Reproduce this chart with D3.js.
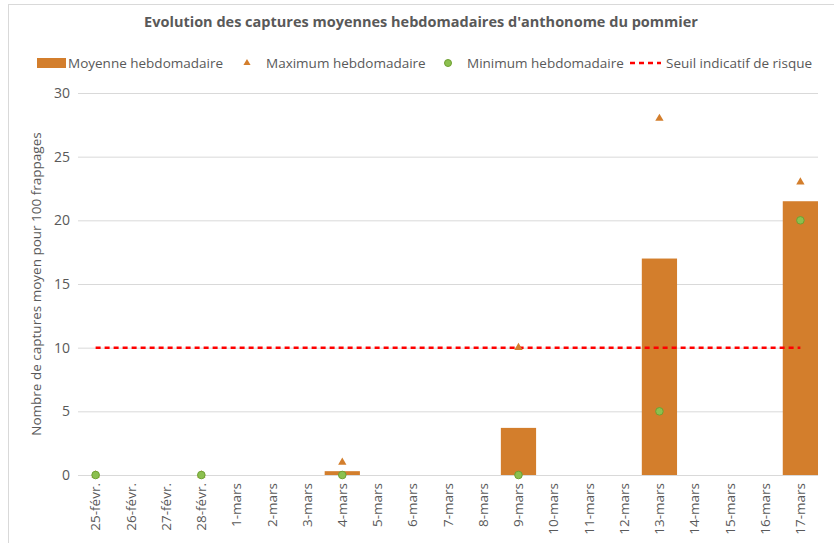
<!DOCTYPE html>
<html><head><meta charset="utf-8">
<script src="https://cdn.jsdelivr.net/npm/d3@7"></script>
<style>body{margin:0;background:#fff}svg{display:block}text{font-family:"Open Sans","Noto Sans",sans-serif}</style>
</head><body><svg id="c" width="834" height="543"></svg>
<script>
const categories = ["25-févr.","26-févr.","27-févr.","28-févr.","1-mars","2-mars","3-mars","4-mars","5-mars","6-mars","7-mars","8-mars","9-mars","10-mars","11-mars","12-mars","13-mars","14-mars","15-mars","16-mars","17-mars"];
const moyenne = [0,null,null,0,null,null,null,0.3,null,null,null,null,3.7,null,null,null,17,null,null,null,21.5];
const maximum = [0,null,null,0,null,null,null,1,null,null,null,null,10,null,null,null,28,null,null,null,23];
const minimum = [0,null,null,0,null,null,null,0,null,null,null,null,0,null,null,null,5,null,null,null,20];
const seuil = categories.map(() => 10);
const yTicks = [0,5,10,15,20,25,30];

const svg = d3.select("#c");
const M = {l:78, r:818, t:93, b:475};
const orange = "#D37E2C", green = "#8CC04F", greenS = "#6FA032", red = "#FF0000", grid = "#D9D9D9", txt = "#595959";

svg.append("rect").attr("x",8.5).attr("y",4.5).attr("width",840).attr("height",560).attr("fill","none").attr("stroke","#D9D9D9");

const x = d3.scaleBand().domain(categories).range([M.l, M.r]).padding(0);
const y = d3.scaleLinear().domain([0,30]).range([M.b, M.t]);

// gridlines
svg.append("g").selectAll("line").data(yTicks).join("line")
  .attr("x1",M.l).attr("x2",M.r).attr("y1",d=>y(d)+0.5).attr("y2",d=>y(d)+0.5)
  .attr("stroke",grid).attr("stroke-width",1);

// y axis labels
const ya = svg.append("g").attr("transform",`translate(${M.l-8},0)`)
  .call(d3.axisLeft(y).tickValues(yTicks).tickSize(0).tickPadding(0));
ya.select(".domain").remove();
ya.selectAll("text").attr("fill",txt).style("font-size","14px").style("font-family","'Open Sans',sans-serif");

// x axis labels
const xa = svg.append("g").attr("transform",`translate(0,${M.b})`)
  .call(d3.axisBottom(x).tickSize(0).tickPadding(0));
xa.select(".domain").remove();
xa.selectAll("text").attr("fill",txt).style("font-size","13.5px")
  .attr("transform","rotate(-90)").attr("text-anchor","end").attr("dx","-8").attr("dy","0.35em").attr("y",0);

// bars
const idx = d3.range(categories.length);
svg.append("g").selectAll("rect").data(idx.filter(i=>moyenne[i]!==null && moyenne[i]>0)).join("rect")
  .attr("x",i=>x(categories[i])).attr("width",x.bandwidth())
  .attr("y",i=>y(moyenne[i])).attr("height",i=>y(0)-y(moyenne[i]))
  .attr("fill",orange);

// threshold line
svg.append("path").datum(idx)
  .attr("d",d3.line().x(i=>x(categories[i])+x.bandwidth()/2).y(i=>y(seuil[i])))
  .attr("fill","none").attr("stroke",red).attr("stroke-width",2.5).attr("stroke-dasharray","5,4");

// max triangles
const tri = d3.symbol().type(d3.symbolTriangle).size(30);
svg.append("g").selectAll("path").data(idx.filter(i=>maximum[i]!==null)).join("path")
  .attr("d",tri).attr("transform",i=>`translate(${x(categories[i])+x.bandwidth()/2},${y(maximum[i])})`)
  .attr("fill",orange);

// min circles
svg.append("g").selectAll("circle").data(idx.filter(i=>minimum[i]!==null)).join("circle")
  .attr("cx",i=>x(categories[i])+x.bandwidth()/2).attr("cy",i=>y(minimum[i])).attr("r",3.8)
  .attr("fill",green).attr("stroke",greenS).attr("stroke-width",1);

// title
svg.append("text").attr("x",421).attr("y",27).attr("text-anchor","middle")
  .attr("fill",txt).style("font-size","14.5px").style("font-weight","bold")
  .text("Evolution des captures moyennes hebdomadaires d'anthonome du pommier");

// y title
svg.append("text").attr("transform","translate(41,284) rotate(-90)").attr("text-anchor","middle")
  .attr("fill",txt).style("font-size","13.5px").text("Nombre de captures moyen pour 100 frappages");

// legend
const lg = svg.append("g");
const ly = 63;
lg.append("rect").attr("x",37).attr("y",ly-5).attr("width",29).attr("height",10).attr("fill",orange);
lg.append("text").attr("x",68).attr("y",ly).attr("dy","0.35em").attr("fill",txt).style("font-size","13.5px").text("Moyenne hebdomadaire");
lg.append("path").attr("d",d3.symbol().type(d3.symbolTriangle).size(22)).attr("transform",`translate(247,${ly})`).attr("fill",orange);
lg.append("text").attr("x",266).attr("y",ly).attr("dy","0.35em").attr("fill",txt).style("font-size","13.5px").text("Maximum hebdomadaire");
lg.append("circle").attr("cx",448).attr("cy",ly).attr("r",3.5).attr("fill",green).attr("stroke",greenS);
lg.append("text").attr("x",467).attr("y",ly).attr("dy","0.35em").attr("fill",txt).style("font-size","13.5px").text("Minimum hebdomadaire");
lg.append("line").attr("x1",630).attr("x2",661).attr("y1",ly).attr("y2",ly).attr("stroke",red).attr("stroke-width",2.5).attr("stroke-dasharray","5,4");
lg.append("text").attr("x",666).attr("y",ly).attr("dy","0.35em").attr("fill",txt).style("font-size","13.5px").text("Seuil indicatif de risque");
</script></body></html>
